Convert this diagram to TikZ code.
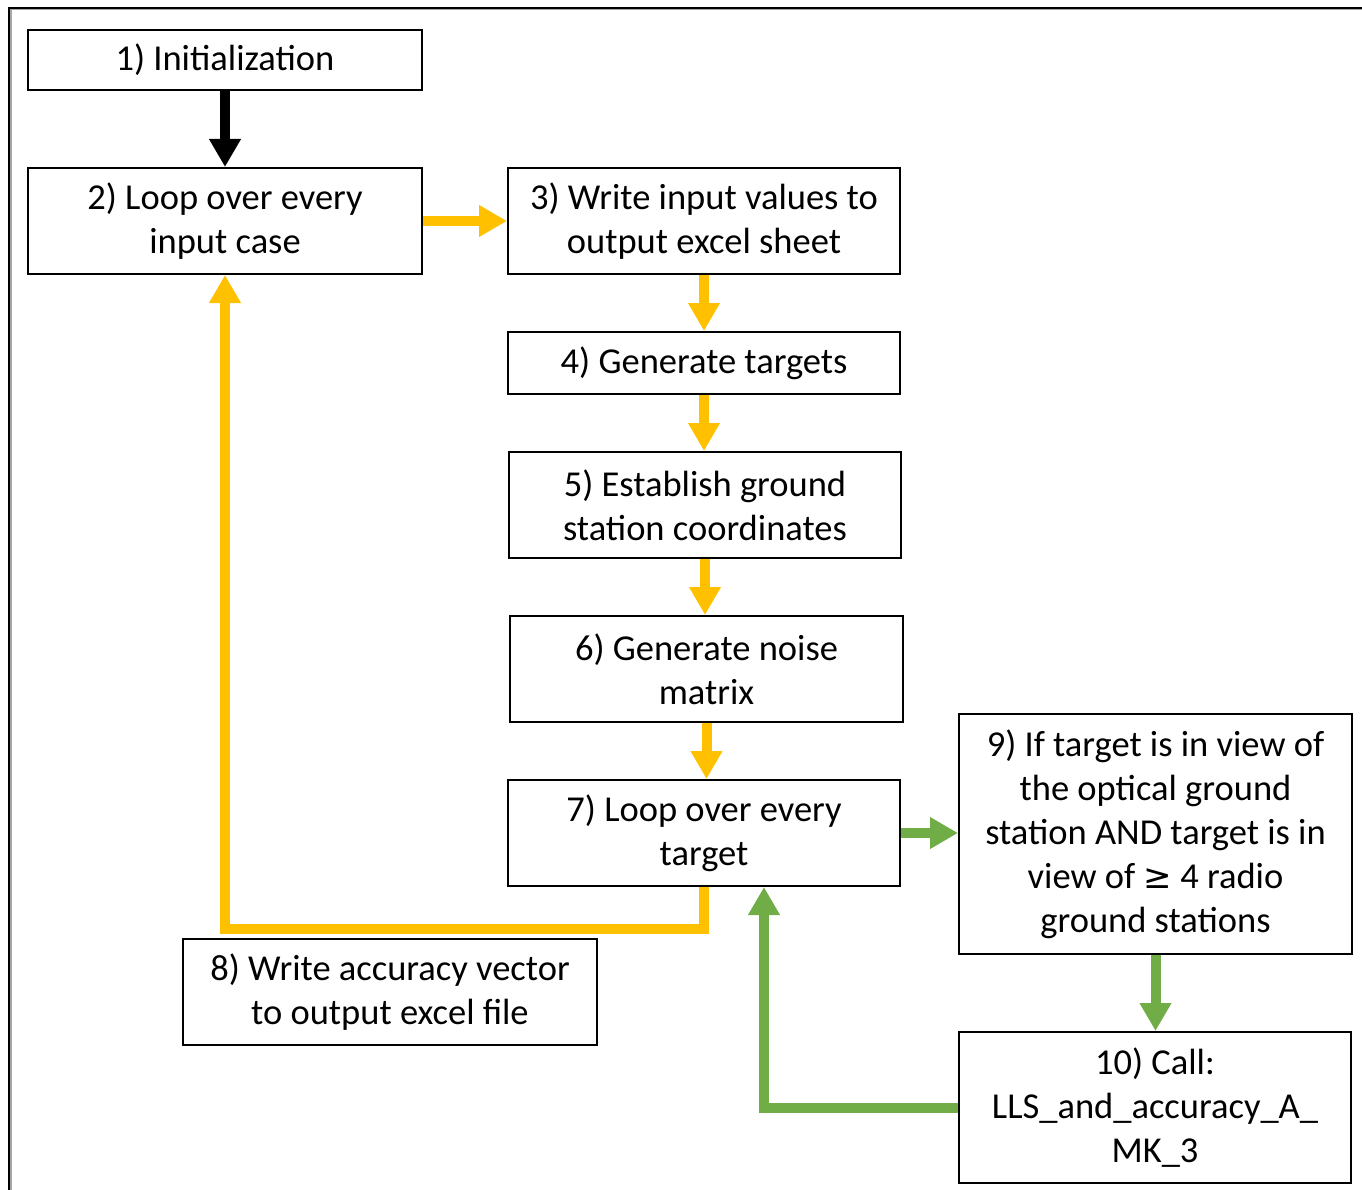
\documentclass[tikz,border=0pt]{standalone}
\usepackage{fontspec}
\setmainfont{Carlito}
\newfontfamily\symfont{DejaVu Sans}
\usetikzlibrary{arrows.meta,calc}
\definecolor{ayellow}{HTML}{FFC000}
\definecolor{agreen}{HTML}{70AD47}
\begin{document}
\begin{tikzpicture}[x=1pt,y=-1pt,
  box/.style={draw=black,line width=2pt,inner sep=0pt,align=center,
    font=\fontsize{36.5}{44}\selectfont},
  flow/.style={line width=10pt,-{Triangle[width=30pt,length=28pt]}},
  yflow/.style={flow,draw=ayellow},
  gflow/.style={flow,draw=agreen},
  bflow/.style={flow,draw=black}]
\useasboundingbox (0,0) rectangle (1362,1190);
\begin{scope}
\clip (0,0) rectangle (1362,1190);
\draw[gray!70,line width=3pt] (10,9) rectangle (1400,1230);
\draw[black,line width=1.5pt] (9,8) rectangle (1400,1230);
\end{scope}
\node[box,minimum width=394pt,minimum height=60pt] (n1) at (225,60) {1) Initialization};
\node[box,minimum width=394pt,minimum height=106pt] (n2) at (225,221) {2) Loop over every\\input case};
\node[box,minimum width=392pt,minimum height=106pt] (n3) at (704,221) {3) Write input values to\\output excel sheet};
\node[box,minimum width=392pt,minimum height=62pt] (n4) at (704,363) {4) Generate targets};
\node[box,minimum width=392pt,minimum height=106pt] (n5) at (705,505) {5) Establish ground\\station coordinates};
\node[box,minimum width=393pt,minimum height=106pt] (n6) at (706.5,669) {6) Generate noise\\matrix};
\node[box,minimum width=392pt,minimum height=106pt] (n7) at (704,833) {7) Loop over every\\target};
\node[box,minimum width=414pt,minimum height=106pt] (n8) at (390,992) {8) Write accuracy vector\\to output excel file};
\node[box,minimum width=393pt,minimum height=240pt] (n9) at (1155.5,834) {9) If target is in view of\\the optical ground\\station AND target is in\\view of {\symfont\fontsize{34}{44}\selectfont ≥} 4 radio\\ground stations};
\node[box,minimum width=392pt,minimum height=151pt] (n10) at (1155,1107.5) {10) Call:\\LLS\_and\_accuracy\_A\_\\MK\_3};
\coordinate (c7) at ($(n7.south)+(0,42)$);
\coordinate (c10) at ($(n7.south)+(60,0)$);
\draw[bflow] (n1.south) -- (n2.north);
\draw[yflow] (n2.east) -- (n3.west);
\draw[yflow] (n3.south) -- (n3.south |- n4.north);
\draw[yflow] (n4.south) -- (n4.south |- n5.north);
\draw[yflow] (n5.south) -- (n5.south |- n6.north);
\draw[yflow] (n6.south) -- (n6.south |- n7.north);
\draw[yflow] (n7.south) -- (c7) -| (n2.south);
\draw[gflow] (n7.east) -- (n7.east -| n9.west);
\draw[gflow] (n9.south) -- (n9.south |- n10.north);
\draw[gflow] (n10.west) -| (c10);
\end{tikzpicture}
\end{document}
